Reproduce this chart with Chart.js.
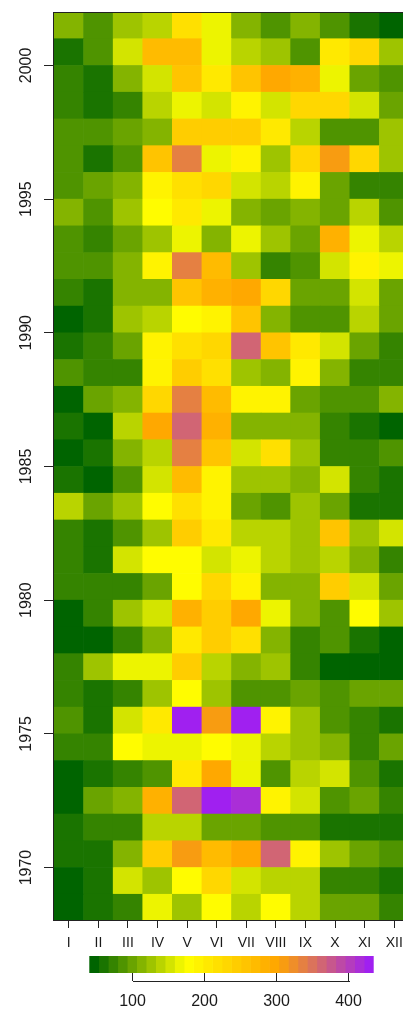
<!DOCTYPE html>
<html>
<head>
<meta charset="utf-8">
<script src="https://cdn.jsdelivr.net/npm/chart.js@4.4.1/dist/chart.umd.min.js"></script>
<style>
  html, body { margin: 0; padding: 0; background: #fff; overflow: hidden; }
  #wrap { position: relative; width: 403px; height: 1011px; overflow: hidden; background: #fff; }
  #heat { position: absolute; left: 0; top: 0; }
  #key { position: absolute; left: 0; top: 948px; }
</style>
</head>
<body>
<div id="wrap">
  <canvas id="heat" width="420" height="1011"></canvas>
  <canvas id="key" width="403" height="63"></canvas>
</div>
<script>
// Monthly precipitation grid, one array per month, years 1968 .. 2001
const monthLabels = ['I', 'II', 'III', 'IV', 'V', 'VI', 'VII', 'VIII', 'IX', 'X', 'XI', 'XII'];
const years = [1968, 1969, 1970, 1971, 1972, 1973, 1974, 1975, 1976, 1977, 1978, 1979,
               1980, 1981, 1982, 1983, 1984, 1985, 1986, 1987, 1988, 1989, 1990, 1991,
               1992, 1993, 1994, 1995, 1996, 1997, 1998, 1999, 2000, 2001];
const yearTicks = [1970, 1975, 1980, 1985, 1990, 1995, 2000];
const keyTicks = [100, 200, 300, 400];

const jan = [47, 47, 60, 60, 47, 47, 73, 86, 73, 73, 47, 47, 73, 73, 73, 139, 60, 47, 60, 47, 86, 60, 47, 73, 86, 86, 112, 86, 86, 86, 73, 73, 60, 112];
const feb = [60, 60, 60, 73, 99, 60, 73, 60, 60, 126, 47, 73, 73, 60, 60, 99, 47, 60, 40, 99, 73, 73, 60, 60, 86, 73, 86, 99, 60, 86, 60, 60, 86, 86];
const mar = [73, 152, 112, 73, 112, 73, 178, 152, 73, 165, 73, 126, 73, 152, 86, 126, 86, 112, 139, 112, 73, 99, 126, 112, 112, 99, 126, 112, 86, 99, 73, 112, 152, 126];
const apr = [165, 126, 244, 139, 284, 86, 165, 205, 126, 165, 112, 152, 99, 178, 126, 178, 152, 139, 297, 231, 191, 191, 139, 112, 191, 126, 178, 191, 257, 112, 139, 152, 270, 139];
const may = [126, 178, 310, 139, 363, 205, 165, 435, 178, 244, 205, 284, 178, 178, 244, 218, 270, 336, 363, 336, 244, 218, 178, 257, 336, 165, 205, 218, 336, 244, 165, 257, 270, 218];
const jun = [178, 231, 270, 99, 425, 297, 178, 310, 126, 139, 244, 244, 231, 152, 205, 191, 191, 257, 284, 270, 218, 231, 191, 284, 270, 112, 165, 231, 165, 244, 152, 205, 165, 165];
const jul = [139, 152, 297, 99, 415, 165, 165, 428, 86, 112, 218, 297, 191, 165, 139, 99, 126, 152, 112, 191, 126, 363, 257, 297, 126, 165, 112, 152, 191, 244, 191, 257, 139, 112];
const aug = [178, 139, 363, 86, 191, 86, 139, 191, 86, 126, 112, 165, 112, 139, 139, 86, 126, 218, 112, 191, 112, 257, 112, 231, 73, 126, 99, 139, 126, 205, 152, 297, 126, 86];
const sep = [139, 139, 191, 86, 152, 139, 126, 126, 99, 73, 73, 112, 112, 126, 126, 126, 112, 126, 112, 99, 191, 205, 86, 99, 86, 99, 112, 191, 231, 139, 231, 284, 86, 112];
const oct = [99, 73, 126, 60, 86, 152, 112, 86, 86, 47, 86, 86, 244, 139, 257, 99, 152, 73, 73, 86, 112, 152, 86, 99, 152, 284, 99, 99, 310, 86, 231, 165, 205, 86];
const nov = [99, 73, 99, 60, 99, 86, 73, 73, 99, 47, 60, 178, 152, 112, 126, 60, 73, 73, 60, 86, 73, 99, 139, 152, 191, 165, 139, 73, 231, 86, 152, 99, 231, 60];
const dec = [73, 60, 86, 60, 73, 60, 99, 60, 99, 47, 47, 126, 99, 73, 152, 60, 60, 86, 47, 112, 73, 73, 99, 99, 165, 139, 86, 73, 126, 126, 99, 86, 126, 47];

const monthly = [jan, feb, mar, apr, may, jun, jul, aug, sep, oct, nov, dec];

// Colour ramp: dark green -> yellow -> orange -> purple, 30 equal-width classes
const rampAnchors = ['#006400', '#FFFF00', '#FFA500', '#A020F0'];
const nColours = 30;
const FONT = '"Liberation Sans", Arimo, Arial, sans-serif';
const INK = '#1a1a1a';

function hexToRgb(h) {
  const n = parseInt(h.slice(1), 16);
  return [(n >> 16) & 255, (n >> 8) & 255, n & 255];
}
function buildRamp(anchors, n) {
  const rgb = anchors.map(hexToRgb);
  const out = [];
  for (let i = 0; i < n; i++) {
    const pos = i / (n - 1) * (rgb.length - 1);
    const k = Math.min(Math.floor(pos), rgb.length - 2);
    const t = pos - k;
    const c = [0, 1, 2].map(j => Math.round(rgb[k][j] + (rgb[k + 1][j] - rgb[k][j]) * t));
    out.push('rgb(' + c.join(',') + ')');
  }
  return out;
}
const palette = buildRamp(rampAnchors, nColours);

const allValues = monthly.flat();
const zMin = Math.min(...allValues);
const zMax = Math.max(...allValues);
const binW = (zMax - zMin) / nColours;
function colourOf(v) {
  const idx = Math.max(0, Math.min(nColours - 1, Math.floor((v - zMin) / binW)));
  return palette[idx];
}

// One floating-bar dataset per year: each month cell spans [year, year + 1]
const heatSets = years.map((yr, k) => ({
  label: String(yr),
  data: monthly.map(() => [yr, yr + 1]),
  backgroundColor: monthly.map(col => colourOf(col[k])),
  borderWidth: 0,
  grouped: false,
  barPercentage: 1,
  categoryPercentage: 1
}));

const frameAndYearLabels = {
  id: 'frameAndYearLabels',
  afterDraw(chart) {
    const { ctx, chartArea: a } = chart;
    const ys = chart.scales.y;
    ctx.save();
    ctx.strokeStyle = '#222';
    ctx.lineWidth = 1;
    ctx.strokeRect(Math.round(a.left) - 0.5, Math.round(a.top) + 0.5,
                   Math.round(a.right - a.left), Math.round(a.bottom - a.top) - 1);
    ctx.fillStyle = INK;
    ctx.font = '16px ' + FONT;
    ctx.textAlign = 'center';
    ctx.textBaseline = 'middle';
    yearTicks.forEach(v => {
      ctx.save();
      ctx.translate(26.5, ys.getPixelForValue(v));
      ctx.rotate(-Math.PI / 2);
      ctx.fillText(String(v), 0, 0);
      ctx.restore();
    });
    ctx.restore();
  }
};

new Chart(document.getElementById('heat'), {
  type: 'bar',
  data: { labels: monthLabels, datasets: heatSets },
  options: {
    responsive: false,
    animation: false,
    devicePixelRatio: 1,
    layout: { padding: { left: 0, right: 11, top: 12, bottom: 0 } },
    plugins: { legend: { display: false }, tooltip: { enabled: false } },
    scales: {
      x: {
        type: 'category',
        offset: true,
        border: { display: false },
        grid: { offset: false, drawOnChartArea: false, tickLength: 7, color: '#222', lineWidth: 1 },
        ticks: { font: { size: 14, family: FONT }, color: INK, padding: 7, maxRotation: 0, autoSkip: false },
        afterFit: s => { s.height = 90; }
      },
      y: {
        type: 'linear',
        min: 1968,
        max: 2002,
        border: { display: false },
        grid: { drawOnChartArea: false, tickLength: 10, color: '#222', lineWidth: 1 },
        ticks: { display: false },
        afterBuildTicks: s => { s.ticks = yearTicks.map(v => ({ value: v })); },
        afterFit: s => { s.width = 54; }
      }
    }
  },
  plugins: [frameAndYearLabels]
});

// Colour key below the grid
const keyAxisLine = {
  id: 'keyAxisLine',
  afterDraw(chart) {
    const { ctx, chartArea: a } = chart;
    const xs = chart.scales.x;
    const y = Math.round(a.bottom + 8) + 0.5;
    ctx.save();
    ctx.strokeStyle = '#222';
    ctx.lineWidth = 1;
    ctx.beginPath();
    ctx.moveTo(Math.round(xs.getPixelForValue(keyTicks[0])), y);
    ctx.lineTo(Math.round(xs.getPixelForValue(keyTicks[keyTicks.length - 1])) + 1, y);
    ctx.stroke();
    ctx.restore();
  }
};

new Chart(document.getElementById('key'), {
  type: 'bar',
  data: {
    labels: [''],
    datasets: palette.map((c, i) => ({
      data: [[zMin + i * binW, zMin + (i + 1) * binW]],
      backgroundColor: c,
      borderWidth: 0,
      grouped: false,
      barPercentage: 1,
      categoryPercentage: 1
    }))
  },
  options: {
    indexAxis: 'y',
    responsive: false,
    animation: false,
    devicePixelRatio: 1,
    layout: { padding: { left: 89.3, right: 29.3, top: 8, bottom: 0 } },
    plugins: { legend: { display: false }, tooltip: { enabled: false } },
    scales: {
      x: {
        type: 'linear',
        min: zMin,
        max: zMax,
        border: { display: false },
        grid: { drawOnChartArea: false, tickLength: 8, color: '#222', lineWidth: 1 },
        ticks: { font: { size: 16, family: FONT }, color: INK, padding: 11, maxRotation: 0 },
        afterBuildTicks: s => { s.ticks = keyTicks.map(v => ({ value: v })); },
        afterFit: s => { s.height = 38; }
      },
      y: { display: false }
    }
  },
  plugins: [keyAxisLine]
});
</script>
</body>
</html>
